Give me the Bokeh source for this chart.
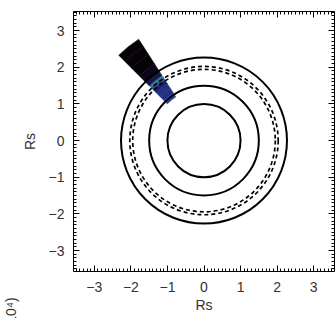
import numpy as np
from bokeh.plotting import figure
from bokeh.models import LinearAxis, Range1d, Title, FixedTicker, LinearColorMapper, ColumnDataSource
from bokeh.embed import file_html
from bokeh.resources import INLINE

# data
ticks = [-3, -2, -1, 0, 1, 2, 3]
solid_radii = [1.0, 1.5, 2.27]
dashed_radii = [1.95, 2.03]
wedge_start_deg = 122.8
wedge_end_deg = 135.0
wedge_r_edges = [1.42, 1.55, 1.7, 1.85, 1.97, 2.05, 2.12, 2.25, 2.5, 2.8, 3.05, 3.3]
wedge_intensity = [0.6, 0.55, 0.5, 0.45, 0.65, 0.75, 0.3, 0.12, 0.06, 0.04, 0.03]
palette = ["#050308", "#0b0716", "#120d2c", "#18164a", "#1e2268", "#243084", "#2a4a96", "#2f7a90"]
cbar_label = "(\u00d710\u2074)"

p = figure(width=335, height=318, output_backend="svg", toolbar_location=None,
           x_range=Range1d(-3.57, 3.57), y_range=Range1d(-3.57, 3.52),
           min_border_left=73, min_border_right=1, min_border_top=11, min_border_bottom=47)
p.grid.visible = False
p.outline_line_color = "black"
p.outline_line_width = 1

mapper = LinearColorMapper(palette=palette, low=0, high=0.8)
inner = wedge_r_edges[:-1]
outer = wedge_r_edges[1:]
src = ColumnDataSource(dict(x=[0]*len(inner), y=[0]*len(inner), ir=inner, orr=outer,
                            intensity=wedge_intensity))
p.annular_wedge(x="x", y="y", inner_radius="ir", outer_radius="orr",
                start_angle=np.deg2rad(wedge_start_deg), end_angle=np.deg2rad(wedge_end_deg),
                fill_color={"field": "intensity", "transform": mapper},
                line_color={"field": "intensity", "transform": mapper}, line_width=0.5,
                source=src)

for r in solid_radii:
    p.circle(x=[0], y=[0], radius=r, fill_color=None, line_color="black", line_width=2)
for r in dashed_radii:
    p.circle(x=[0], y=[0], radius=r, fill_color=None, line_color="black", line_width=1.7,
             line_dash="4 3")

font = "Liberation Sans"
minor = list(np.round(np.arange(-3.5, 3.51, 0.1), 2))
for ax in [p.xaxis[0], p.yaxis[0]]:
    ax.ticker = FixedTicker(ticks=ticks, minor_ticks=minor)
    ax.major_tick_in = 6
    ax.major_tick_out = 0
    ax.minor_tick_in = 3
    ax.minor_tick_out = 0
    ax.axis_line_color = None
    ax.major_label_text_font = font
    ax.major_label_text_font_size = "14px"
    ax.major_label_text_color = "#333333"
    ax.axis_label = "Rs"
    ax.axis_label_text_font = font
    ax.axis_label_text_font_size = "14px"
    ax.axis_label_text_font_style = "normal"
    ax.axis_label_text_color = "#333333"
    ax.major_label_overrides = {t: str(t).replace("-", "\u2212") for t in ticks}
p.xaxis[0].major_label_standoff = 10
p.xaxis[0].axis_label_standoff = 2
p.yaxis[0].major_label_standoff = 9
p.yaxis[0].axis_label_standoff = 8

for loc in ["above", "right"]:
    a = LinearAxis(ticker=FixedTicker(ticks=ticks, minor_ticks=minor),
                   major_tick_in=6, major_tick_out=0, minor_tick_in=3, minor_tick_out=0,
                   axis_line_color=None, major_label_standoff=0,
                   major_label_overrides={t: "" for t in ticks})
    p.add_layout(a, loc)

p.add_layout(Title(text=cbar_label, align="left", offset=-65, standoff=0,
                   text_font=font, text_font_size="14px", text_font_style="normal",
                   text_color="#333333"), "left")

open("out.html", "w").write(file_html(p, INLINE))
